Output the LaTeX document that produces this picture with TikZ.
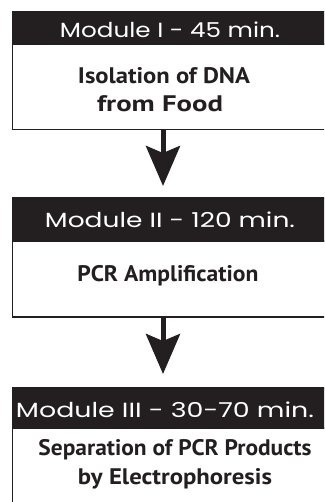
\documentclass[tikz,border=0pt]{standalone}
\usepackage{fontspec}
\usepackage{graphicx}
\setmainfont{PT Sans}
\newfontfamily\headfont{Poppins}
\usetikzlibrary{arrows.meta}
\definecolor{ink}{HTML}{231F20}
\newcommand\fitw[2]{\resizebox{#1}{\height}{#2}}
\tikzset{
  x=1pt, y=-1pt,
  header/.style={fill=ink, draw=ink, line width=1.4pt},
  body/.style={draw=ink, line width=1.4pt},
  htext/.style={text=white, font=\headfont\fontsize{20.5}{24}\selectfont, inner sep=0pt, anchor=base},
  btext/.style={text=ink, font=\bfseries\fontsize{22.5}{28}\selectfont, inner sep=0pt, anchor=base},
  flow/.style={draw=ink, line width=5pt, -{Stealth[length=40pt, width=34pt, inset=7pt]}},
}
\begin{document}
\begin{tikzpicture}
\useasboundingbox (0,0) rectangle (324,502);
\begin{scope}
\clip (0,0) rectangle (324,502);
% box 1
\path[body] (12.5,44) rectangle (340,129.5);
\path[header] (12.5,11.5) rectangle (340,44);
% box 2
\path[body] (12.5,241) rectangle (340,317);
\path[header] (12.5,198) rectangle (340,241);
% box 3
\path[body] (12.5,428) rectangle (340,530);
\path[header] (12.5,388) rectangle (340,428);
\end{scope}
\coordinate (b1s) at (163,129.5);
\coordinate (b2n) at (163,198);
\coordinate (b2s) at (163,317);
\coordinate (b3n) at (163,388);
\node[htext] (h1) at (170,38) {\fitw{220pt}{Module I - 45 min.}};
\node[btext] (t1a) at (164,84) {\fitw{172pt}{Isolation of DNA}};
\node[btext] (t1b) at (160,112) {\fitw{126pt}{from Food}};
\node[htext] (h2) at (170,227) {\fitw{250pt}{Module II - 120 min.}};
\node[btext] (t2) at (168,281) {\fitw{181pt}{PCR Amplification}};
\node[htext] (h3) at (165,417) {\fitw{298pt}{Module III - 30-70 min.}};
\node[btext] (t3a) at (175,455) {\fitw{273pt}{Separation of PCR Products}};
\node[btext] (t3b) at (175,484) {\fitw{194pt}{by Electrophoresis}};
\draw[flow, shorten >=12pt] (b1s) -- (b2n);
\draw[flow, shorten >=14pt] (b2s) -- (b3n);
\end{tikzpicture}
\end{document}
